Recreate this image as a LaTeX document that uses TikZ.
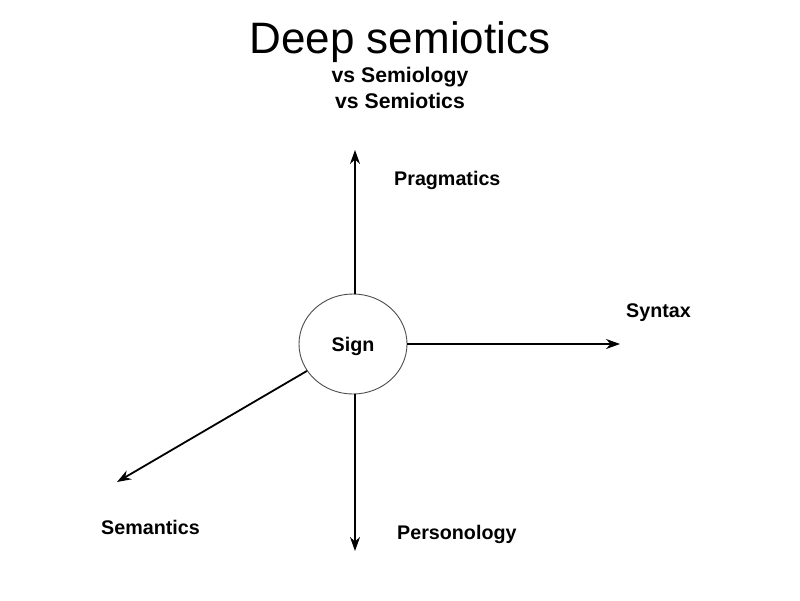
\documentclass[tikz,border=0pt]{standalone}
\usepackage{fontspec}
\setmainfont{Liberation Sans}
\usetikzlibrary{arrows.meta,shapes.geometric}
\begin{document}
\begin{tikzpicture}[x=1pt,y=-1pt,
  axis/.style={line width=1.8pt,-{Stealth[length=14pt,width=10pt,inset=4.5pt]}},
  lbl/.style={font=\fontsize{19.7}{22}\selectfont\bfseries,anchor=base west,inner sep=0pt},
  sub/.style={font=\fontsize{21.2}{24}\selectfont\bfseries,anchor=base,inner sep=0pt}]
\useasboundingbox[fill=white] (0,0) rectangle (800,600);
\node[anchor=base,inner sep=0pt,font=\fontsize{44}{48}\selectfont] (title) at (400,53) {Deep semiotics};
\node[sub] (sub1) at (400,82) {vs Semiology};
\node[sub] (sub2) at (400,108) {vs Semiotics};
\node[ellipse,draw=black!70,line width=0.9pt,minimum width=108pt,minimum height=100pt,inner sep=0pt] (sign) at (353,344) {};
\node[lbl,anchor=base] (signtxt) at (353,351) {Sign};
\coordinate (up) at (355,150);
\coordinate (rt) at (620,344);
\coordinate (dn) at (355,551);
\coordinate (sw) at (117,482);
\draw[axis] (sign.north -| up) -- (up);
\draw[axis] (sign.east) -- (rt);
\draw[axis] (sign.south -| dn) -- (dn);
\draw[axis] (sign) -- (sw);
\node[lbl] (prag) at (394,185) {Pragmatics};
\node[lbl] (syn) at (626,317) {Syntax};
\node[lbl] (sem) at (101,534) {Semantics};
\node[lbl] (pers) at (397,539) {Personology};
\end{tikzpicture}
\end{document}
